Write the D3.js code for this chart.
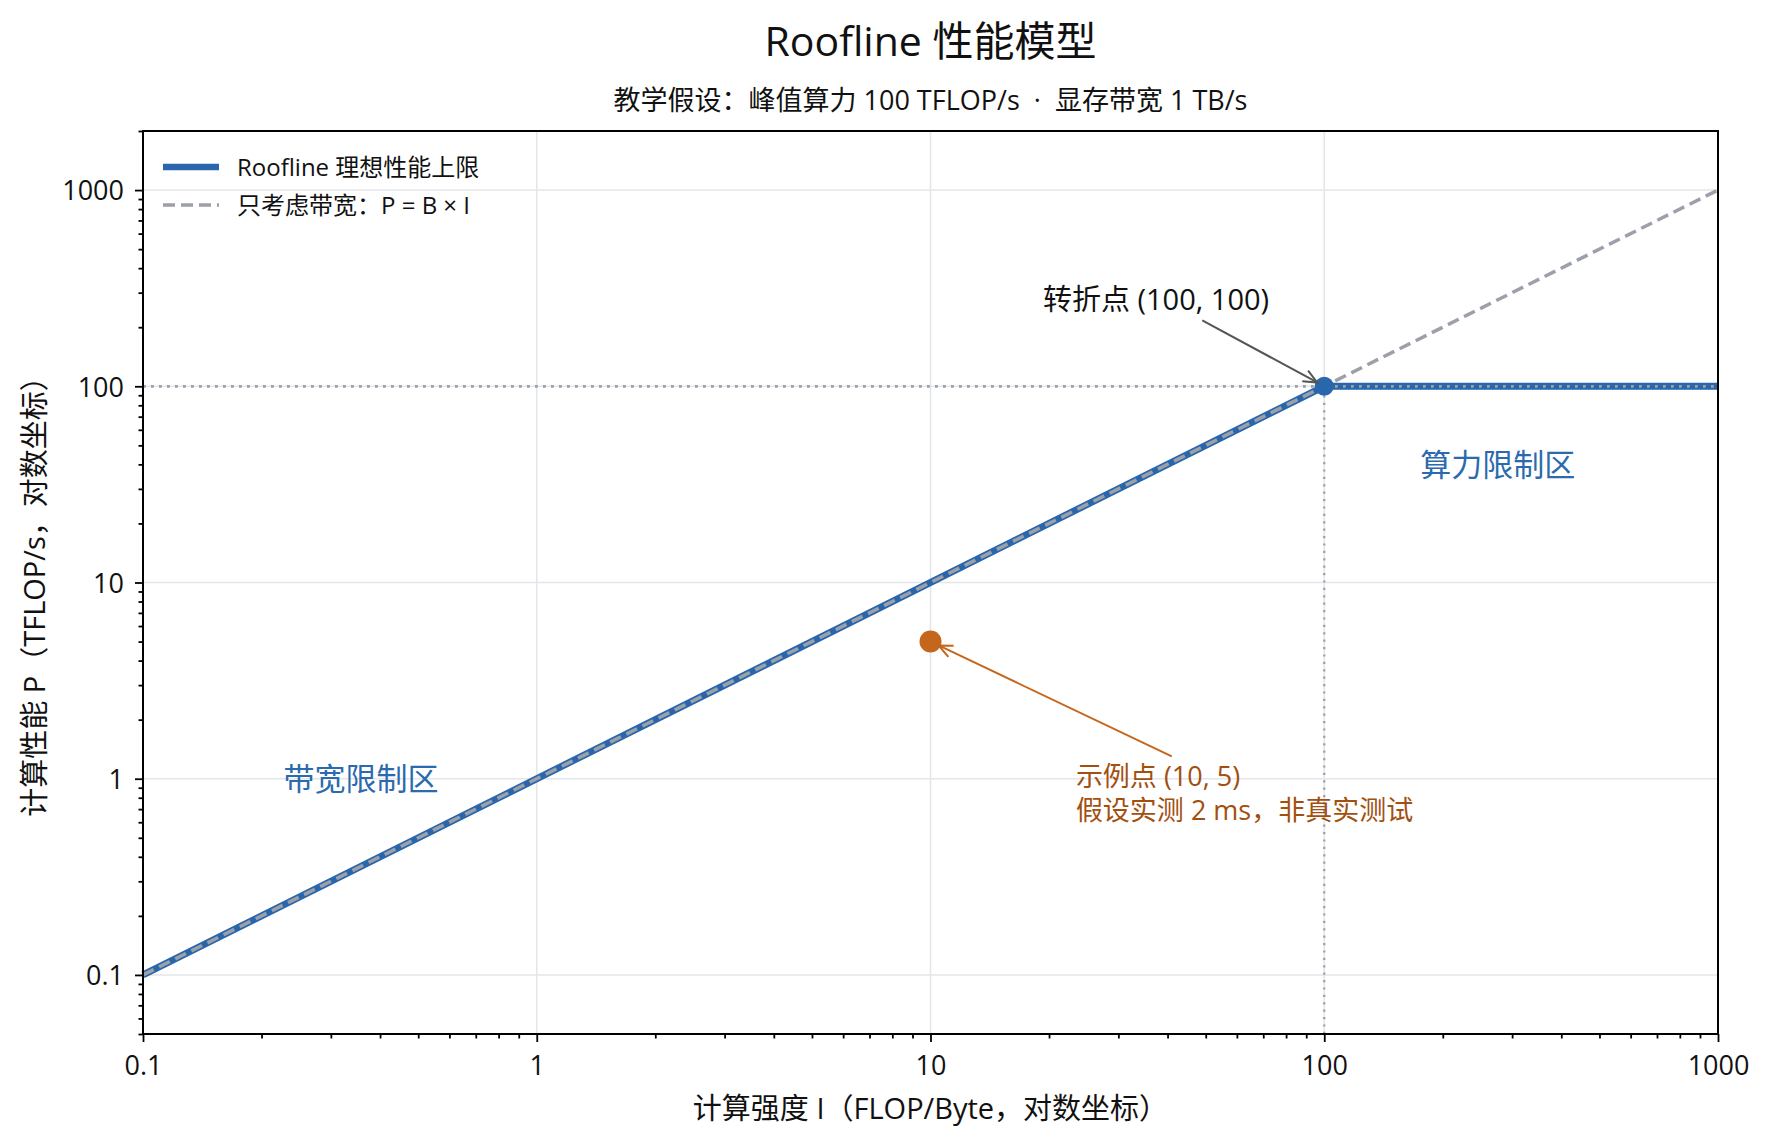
<!DOCTYPE html>
<html><head><meta charset="utf-8">
<script src="https://cdn.jsdelivr.net/npm/d3@7"></script>
<style>
body{margin:0;background:#fff;}
text{font-family:"Open Sans","Noto Sans CJK SC",sans-serif;}
</style></head>
<body><svg id="c" width="1771" height="1141"></svg>
<script>
// ---- data ----
const rooflineI = [0.1, 100, 1000];
const rooflineP = [0.1, 100, 100];
const bandwidthI = [0.1, 1000];
const bandwidthP = [0.1, 1000];
const ridgeI = 100, ridgeP = 100;
const sampleI = 10, sampleP = 5;
const xTickVals = [0.1, 1, 10, 100, 1000];
const xTickLabels = ["0.1", "1", "10", "100", "1000"];
const yTickVals = [0.1, 1, 10, 100, 1000];
const yTickLabels = ["0.1", "1", "10", "100", "1000"];
const legendLabels = ["Roofline 理想性能上限", "只考虑带宽：P = B × I"];
const titleText = "Roofline 性能模型";
const subtitleText = "教学假设：峰值算力 100 TFLOP/s  ·  显存带宽 1 TB/s";
const xLabel = "计算强度 I（FLOP/Byte，对数坐标）";
const yLabel = "计算性能 P（TFLOP/s，对数坐标）";

const W = 1771, H = 1141;
const m = {l:143, r:1718, t:131, b:1034};
const svg = d3.select("#c");
const x = d3.scaleLog().domain([0.1, 1000]).range([m.l, m.r]);
const y = d3.scaleLog().domain([0.05, 2000]).range([m.b, m.t]);

const BLUE = "#2a66ab", ORANGE = "#c4661c", ORANGE_T = "#a24f10", GRAY = "#9ca0a8";

// grid
const grid = svg.append("g");
xTickVals.forEach(v => grid.append("line").attr("x1", x(v)).attr("x2", x(v)).attr("y1", m.t).attr("y2", m.b)
  .attr("stroke", "#e3e6ea").attr("stroke-width", 1.6));
yTickVals.forEach(v => grid.append("line").attr("y1", y(v)).attr("y2", y(v)).attr("x1", m.l).attr("x2", m.r)
  .attr("stroke", "#e3e6ea").attr("stroke-width", 1.6));

// axes
const minorX = [];
for (let e = -1; e < 3; e++) for (let k = 2; k <= 9; k++) minorX.push(k * Math.pow(10, e));
const minorY = [];
for (let e = -2; e < 4; e++) for (let k = 1; k <= 9; k++) {
  const v = k * Math.pow(10, e);
  if (v >= 0.05 && v <= 2000 && k !== 1) minorY.push(v);
}
const xAxis = d3.axisBottom(x).tickValues(xTickVals).tickFormat((d, i) => xTickLabels[i]).tickSize(8).tickPadding(8);
const xMinor = d3.axisBottom(x).tickValues(minorX).tickFormat("").tickSize(4.5);
const yAxis = d3.axisLeft(y).tickValues(yTickVals).tickFormat((d, i) => yTickLabels[i]).tickSize(8).tickPadding(11);
const yMinor = d3.axisLeft(y).tickValues(minorY).tickFormat("").tickSize(4.5);

function styleAxis(g) {
  g.select(".domain").remove();
  g.selectAll("line").attr("stroke", "#000").attr("stroke-width", 1.8);
  g.selectAll("text").attr("font-size", 27).attr("fill", "#111");
}
svg.append("g").attr("transform", `translate(0,${m.b})`).call(xMinor).call(styleAxis);
svg.append("g").attr("transform", `translate(0,${m.b})`).call(xAxis).call(styleAxis)
  .selectAll("text").attr("dy", "0.92em");
svg.append("g").attr("transform", `translate(${m.l},0)`).call(yMinor).call(styleAxis);
svg.append("g").attr("transform", `translate(${m.l},0)`).call(yAxis).call(styleAxis)
  .selectAll("text").attr("dy", "0.36em");

// lines
const lineGen = d3.line().x(d => x(d[0])).y(d => y(d[1]));
const roofData = rooflineI.map((v, i) => [v, rooflineP[i]]);
const bwData = bandwidthI.map((v, i) => [v, bandwidthP[i]]);

svg.append("path").datum(roofData).attr("d", lineGen).attr("fill", "none")
  .attr("stroke", BLUE).attr("stroke-width", 7).attr("stroke-linejoin", "round");
svg.append("path").datum(bwData).attr("d", lineGen).attr("fill", "none")
  .attr("stroke", GRAY).attr("stroke-width", 3.5).attr("stroke-dasharray", "12,6");

// reference dotted lines
svg.append("line").attr("x1", x(0.1)).attr("x2", x(1000)).attr("y1", y(ridgeP)).attr("y2", y(ridgeP))
  .attr("stroke", "#9aa0a8").attr("stroke-width", 2.8).attr("stroke-dasharray", "2.8,5.2");
svg.append("line").attr("x1", x(ridgeI)).attr("x2", x(ridgeI)).attr("y1", m.b).attr("y2", y(ridgeP))
  .attr("stroke", "#9aa0a8").attr("stroke-width", 2.2).attr("stroke-dasharray", "2.2,5.2");

// frame
svg.append("rect").attr("x", m.l).attr("y", m.t).attr("width", m.r - m.l).attr("height", m.b - m.t)
  .attr("fill", "none").attr("stroke", "#000").attr("stroke-width", 2);

// points
svg.append("circle").attr("cx", x(ridgeI)).attr("cy", y(ridgeP)).attr("r", 9.5).attr("fill", BLUE);
svg.append("circle").attr("cx", x(sampleI)).attr("cy", y(sampleP)).attr("r", 11).attr("fill", ORANGE);

// arrows
function arrow(fromI, fromP, toI, toP, shrink, color) {
  const x1 = x(fromI), y1 = y(fromP), x2 = x(toI), y2 = y(toP);
  const dx = x2 - x1, dy = y2 - y1, len = Math.hypot(dx, dy);
  const ux = dx / len, uy = dy / len;
  const tx = x2 - ux * shrink, ty = y2 - uy * shrink;
  svg.append("line").attr("x1", x1).attr("y1", y1).attr("x2", tx).attr("y2", ty)
    .attr("stroke", color).attr("stroke-width", 2);
  const hl = 15, ang = 0.42;
  const a = Math.atan2(uy, ux);
  const p1 = [tx - hl * Math.cos(a - ang), ty - hl * Math.sin(a - ang)];
  const p2 = [tx - hl * Math.cos(a + ang), ty - hl * Math.sin(a + ang)];
  svg.append("path").attr("d", `M${p1[0]},${p1[1]}L${tx},${ty}L${p2[0]},${p2[1]}`)
    .attr("fill", "none").attr("stroke", color).attr("stroke-width", 2);
}
arrow(49, 217, ridgeI, ridgeP, 8, "#555");
arrow(41, 1.30, sampleI, sampleP, 9, ORANGE);

// annotation texts
svg.append("text").attr("x", x(19.3)).attr("y", 310).attr("font-size", 29).attr("fill", "#111")
  .text("转折点 (100, 100)");
svg.append("text").attr("x", x(23.4)).attr("y", 786).attr("font-size", 27).attr("fill", ORANGE_T)
  .text("示例点 (10, 5)");
svg.append("text").attr("x", x(23.4)).attr("y", 820).attr("font-size", 27).attr("fill", ORANGE_T)
  .text("假设实测 2 ms，非真实测试");

// region labels
svg.append("text").attr("x", x(0.358)).attr("y", y(1)).attr("dy", "0.36em").attr("text-anchor", "middle")
  .attr("font-size", 31).attr("fill", "#2b6aae").text("带宽限制区");
svg.append("text").attr("x", x(276)).attr("y", y(39.6)).attr("dy", "0.36em").attr("text-anchor", "middle")
  .attr("font-size", 31).attr("fill", "#2b6aae").text("算力限制区");

// legend
const lg = svg.append("g");
lg.append("line").attr("x1", 163).attr("x2", 219).attr("y1", 167).attr("y2", 167)
  .attr("stroke", BLUE).attr("stroke-width", 6.5);
lg.append("line").attr("x1", 163).attr("x2", 219).attr("y1", 205).attr("y2", 205)
  .attr("stroke", GRAY).attr("stroke-width", 3.5).attr("stroke-dasharray", "12,6");
lg.append("text").attr("x", 237).attr("y", 167).attr("dy", "0.36em").attr("font-size", 24).attr("fill", "#111").text(legendLabels[0]);
lg.append("text").attr("x", 237).attr("y", 205).attr("dy", "0.36em").attr("font-size", 24).attr("fill", "#111").text(legendLabels[1]);

// titles
svg.append("text").attr("x", (m.l + m.r) / 2).attr("y", 56).attr("text-anchor", "middle")
  .attr("font-size", 41).attr("fill", "#111").text(titleText);
svg.append("text").attr("x", (m.l + m.r) / 2).attr("y", 110).attr("text-anchor", "middle")
  .attr("font-size", 27).attr("fill", "#111").attr("xml:space", "preserve").style("white-space", "pre").text(subtitleText);
svg.append("text").attr("x", (m.l + m.r) / 2).attr("y", 1119).attr("text-anchor", "middle")
  .attr("font-size", 29).attr("fill", "#111").text(xLabel);
svg.append("text").attr("transform", `translate(35,${(m.t + m.b) / 2 + 7}) rotate(-90)`).attr("text-anchor", "middle")
  .attr("dy", "0.36em").attr("font-size", 29).attr("fill", "#111").text(yLabel);
</script></body></html>
